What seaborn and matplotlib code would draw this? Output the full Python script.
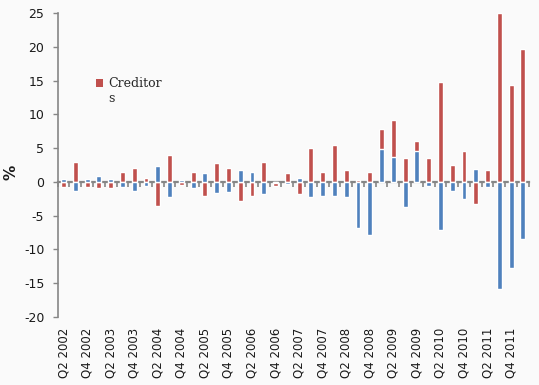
import matplotlib
matplotlib.use('Agg')
import matplotlib.pyplot as plt
from matplotlib.patches import Patch, Rectangle
from matplotlib.legend_handler import HandlerPatch
import seaborn as sns
import pandas as pd
import numpy as np

quarters = [
    "Q2 2002", "Q3 2002", "Q4 2002",
    "Q1 2003", "Q2 2003", "Q3 2003", "Q4 2003",
    "Q1 2004", "Q2 2004", "Q3 2004", "Q4 2004",
    "Q1 2005", "Q2 2005", "Q3 2005", "Q4 2005",
    "Q1 2006", "Q2 2006", "Q3 2006", "Q4 2006",
    "Q1 2007", "Q2 2007", "Q3 2007", "Q4 2007",
    "Q1 2008", "Q2 2008", "Q3 2008", "Q4 2008",
    "Q1 2009", "Q2 2009", "Q3 2009", "Q4 2009",
    "Q1 2010", "Q2 2010", "Q3 2010", "Q4 2010",
    "Q1 2011", "Q2 2011", "Q3 2011", "Q4 2011",
    "Q1 2012",
]
creditors = [
    -0.8, 2.9, -0.7,
    -0.85, -0.85, 1.5, 2.0,
    0.5, -3.65, 4.05, -0.5,
    1.4, -2.15, 2.85, 2.0,
    -2.9, -2.15, 3.0, -0.55,
    1.25, -1.85, 5.05, 1.4,
    5.5, 1.7, 0.2, 1.4,
    7.9, 9.2, 3.6, 6.1,
    3.6, 14.8, 2.55, 4.5,
    -3.35, 1.8, 25.0, 14.4,
    19.7,
]
debtors = [
    0.35, -1.4, 0.35,
    0.8, 0.35, -0.7, -1.3,
    -0.55, 2.4, -2.3, 0.2,
    -0.85, 1.25, -1.7, -1.45,
    1.8, 1.4, -1.85, -0.2,
    -0.25, 0.5, -2.3, -2.15,
    -2.15, -2.3, -6.9, -7.9,
    4.9, 3.75, -3.8, 4.5,
    -0.55, -7.2, -1.3, -2.6,
    1.95, -0.7, -15.9, -12.8,
    -8.5,
]
tick_labels = quarters[::2]
y_ticks = [-20, -15, -10, -5, 0, 5, 10, 15, 20, 25]

RED = "#C0504D"
BLUE = "#4F81BD"
GRAY = "#868686"
BG = "#fafafa"

sns.set_theme(style="white")
plt.rcParams["font.family"] = ["DejaVu Sans"]

fig = plt.figure(figsize=(5.39, 3.85), dpi=100, facecolor=BG)
ax = fig.add_axes([0.107, 0.177, 0.874, 0.789])
ax.set_facecolor(BG)

df = pd.DataFrame({"quarter": quarters, "Creditors": creditors, "Debtors": debtors})
sns.barplot(data=df, x="quarter", y="Creditors", order=quarters, color=RED,
            saturation=1, width=0.42, errorbar=None, ax=ax, zorder=2)
sns.barplot(data=df, x="quarter", y="Debtors", order=quarters, color=BLUE,
            saturation=1, width=0.42, errorbar=None, ax=ax, zorder=3)

ax.set_xlim(-0.5, len(quarters) - 0.5)
ax.set_ylim(-20, 25)
ax.set_yticks(y_ticks)
ax.set_yticklabels([str(v) for v in y_ticks], fontsize=9, color="#1a1a1a")
ax.set_xticks(np.arange(0, len(quarters), 2))
ax.set_xticklabels(tick_labels, rotation=90, fontsize=8.5, color="#1a1a1a")
ax.tick_params(axis="x", length=0, pad=8)
ax.tick_params(axis="y", length=3.6, width=1, color=GRAY, direction="out", pad=6, left=True)
ax.set_xlabel("")
ax.set_ylabel("%", fontsize=11, fontweight="bold", color="#1a1a1a")
ax.yaxis.set_label_coords(-0.083, 0.477)

for s in ["top", "right", "bottom"]:
    ax.spines[s].set_visible(False)
ax.spines["left"].set_color(GRAY)
ax.spines["left"].set_linewidth(1.2)

# zero axis with tick marks between categories
sec = ax.secondary_xaxis(20 / 45)
sec.set_xticks(np.arange(-0.5, len(quarters), 1))
sec.tick_params(axis="x", length=3.6, width=1.2, color=GRAY, direction="out",
                labelbottom=False, labeltop=False)
for s in sec.spines.values():
    s.set_visible(False)
sec.spines["bottom"].set_visible(True)
sec.spines["bottom"].set_color(GRAY)
sec.spines["bottom"].set_linewidth(1.6)


def top_square(legend, orig_handle, xdescent, ydescent, width, height, fontsize):
    return Rectangle((-xdescent, -ydescent + 5.8), width, height)


handles = [Patch(facecolor=RED, edgecolor="none", label="Creditor\ns")]
leg = ax.legend(handles=handles, loc="upper left", bbox_to_anchor=(0.057, 0.827),
                frameon=False, handlelength=0.6, handleheight=0.6, handletextpad=0.4,
                prop={"family": "DejaVu Serif", "size": 9},
                handler_map={Patch: HandlerPatch(patch_func=top_square)})

fig.savefig("out.png", dpi=100, facecolor=BG)
